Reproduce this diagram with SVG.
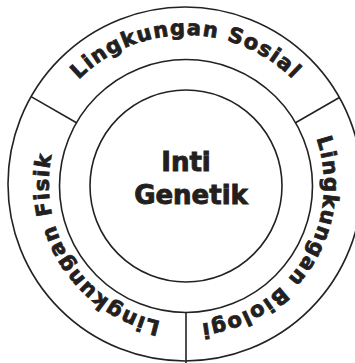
<svg xmlns="http://www.w3.org/2000/svg" xmlns:xlink="http://www.w3.org/1999/xlink" width="355" height="363" viewBox="0 0 355 363">
<style>
.ring{fill:none;stroke:#222;stroke-width:1.6}
.div{stroke:#222;stroke-width:1.6}
.arc{font-family:"DejaVu Sans",Verdana,sans-serif;font-weight:bold;font-size:21px;fill:#231f20;stroke:#231f20;stroke-width:0.8;letter-spacing:1.3px}
.core{font-family:"DejaVu Sans",Verdana,sans-serif;font-weight:bold;font-size:26px;fill:#231f20;stroke:#231f20;stroke-width:0.9;text-anchor:middle}
</style>
<defs>
<path id="pTop" d="M35,186 A151,151 0 0 1 337,186"/>
<path id="pLeft" d="M262.2,303.4 A140,140 0 0 1 109.8,68.6"/>
<path id="pRight" d="M260.2,67.3 A140,140 0 0 1 111.8,304.7"/>
</defs>
<rect width="355" height="363" fill="#fff"/>
<g id="outer-ring"><circle class="ring" cx="185" cy="184" r="177"/></g>
<g id="middle-ring"><circle class="ring" cx="186" cy="186" r="126.5"/></g>
<g id="connectors">
<line class="div" x1="76.5" y1="122.7" x2="31.1" y2="96.6"/>
<line class="div" x1="295.5" y1="122.7" x2="339.4" y2="97.5"/>
<line class="div" x1="186" y1="312.5" x2="186" y2="363"/>
</g>
<g id="sosial"><text class="arc"><textPath xlink:href="#pTop" href="#pTop" startOffset="50%" text-anchor="middle">Lingkungan Sosial</textPath></text></g>
<g id="fisik"><text class="arc"><textPath xlink:href="#pLeft" href="#pLeft" startOffset="50%" text-anchor="middle">Lingkungan Fisik</textPath></text></g>
<g id="biologi"><text class="arc"><textPath xlink:href="#pRight" href="#pRight" startOffset="50%" text-anchor="middle">Lingkungan Biologi</textPath></text></g>
<g id="inti-genetik">
<circle class="ring" cx="186" cy="186" r="96"/>
<text class="core" x="186" y="171">Inti</text>
<text class="core" x="191" y="204">Genetik</text>
</g>
</svg>
